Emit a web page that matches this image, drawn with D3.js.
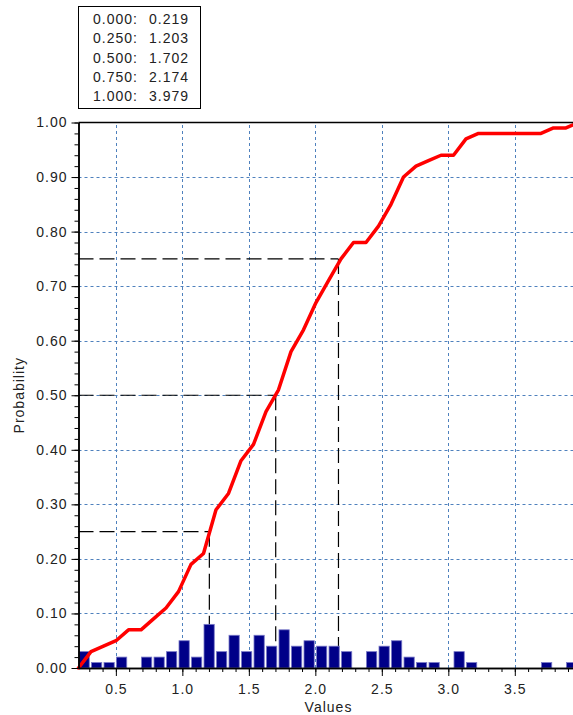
<!DOCTYPE html>
<html>
<head>
<meta charset="utf-8">
<script src="https://cdn.jsdelivr.net/npm/d3@7"></script>
<style>
  body { margin: 0; background: #fff; }
  svg text { font-family: "Liberation Sans", Arial, sans-serif; font-size: 14px; letter-spacing: 1px; fill: #222; }
</style>
</head>
<body>
<svg id="chart" width="573" height="715"></svg>
<script>
// quantile table
let quantProbs = [0.000, 0.250, 0.500, 0.750, 1.000],
    quantVals = [0.219, 1.203, 1.702, 2.174, 3.979];

// histogram bins (left edge) and relative frequency
let binStarts = [0.219, 0.313, 0.407, 0.501, 0.595, 0.689, 0.783, 0.877, 0.971, 1.065,
                 1.159, 1.253, 1.347, 1.441, 1.535, 1.629, 1.723, 1.817, 1.911, 2.005,
                 2.099, 2.193, 2.287, 2.381, 2.475, 2.569, 2.663, 2.757, 2.851, 2.945,
                 3.039, 3.133, 3.227, 3.321, 3.415, 3.509, 3.603, 3.697, 3.791, 3.885],
    binFreq = [0.03, 0.01, 0.01, 0.02, 0.00, 0.02, 0.02, 0.03, 0.05, 0.02,
               0.08, 0.03, 0.06, 0.03, 0.06, 0.04, 0.07, 0.04, 0.05, 0.04,
               0.04, 0.03, 0.00, 0.03, 0.04, 0.05, 0.02, 0.01, 0.01, 0.00,
               0.03, 0.01, 0.00, 0.00, 0.00, 0.00, 0.00, 0.01, 0.00, 0.01],
    binWidth = 0.094;

// cumulative curve
let cdfX = [0.219, 0.313, 0.407, 0.501, 0.595, 0.689, 0.783, 0.877, 0.971, 1.065,
            1.159, 1.253, 1.347, 1.441, 1.535, 1.629, 1.723, 1.817, 1.911, 2.005,
            2.099, 2.193, 2.287, 2.381, 2.475, 2.569, 2.663, 2.757, 2.851, 2.945,
            3.039, 3.133, 3.227, 3.321, 3.415, 3.509, 3.603, 3.697, 3.791, 3.885, 3.979],
    cdfY = [0.00, 0.03, 0.04, 0.05, 0.07, 0.07, 0.09, 0.11, 0.14, 0.19,
            0.21, 0.29, 0.32, 0.38, 0.41, 0.47, 0.51, 0.58, 0.62, 0.67,
            0.71, 0.75, 0.78, 0.78, 0.81, 0.85, 0.90, 0.92, 0.93, 0.94,
            0.94, 0.97, 0.98, 0.98, 0.98, 0.98, 0.98, 0.98, 0.99, 0.99, 1.00];

let xTicks = [0.5, 1.0, 1.5, 2.0, 2.5, 3.0, 3.5],
    yTicks = [0.0, 0.1, 0.2, 0.3, 0.4, 0.5, 0.6, 0.7, 0.8, 0.9, 1.0];

let svg = d3.select("#chart"),
    plotLeft = 78.5, plotRight = 578.5, plotTop = 122.5, plotBottom = 668,
    grid_color = "#4f81bd",
    bar_fill = "#000088",
    bar_stroke = "#7878c8",
    line_color = "#ff0000";

let x = d3.scaleLinear().domain([quantVals[0], quantVals[4]]).range([plotLeft, plotRight]),
    y = d3.scaleLinear().domain([0, 1]).range([plotBottom, plotTop]);

// grid
let grid = svg.append("g").attr("stroke", grid_color).attr("stroke-width", 1)
              .attr("stroke-dasharray", "3,3").attr("fill", "none");
grid.selectAll(".vg").data(xTicks).enter().append("line")
    .attr("x1", d => Math.round(x(d)) + 0.5).attr("x2", d => Math.round(x(d)) + 0.5)
    .attr("y1", plotBottom).attr("y2", plotTop);
grid.selectAll(".hg").data(yTicks.slice(1, -1)).enter().append("line")
    .attr("y1", d => Math.round(y(d)) + 0.5).attr("y2", d => Math.round(y(d)) + 0.5)
    .attr("x1", plotLeft).attr("x2", plotRight);

// quartile guides
let guides = svg.append("g").attr("stroke", "#000").attr("stroke-width", 1.2)
                .attr("stroke-dasharray", "15,6").attr("fill", "none");
let mids = [1, 2, 3];
guides.selectAll(".gh").data(mids).enter().append("line")
      .attr("x1", plotLeft).attr("x2", i => x(quantVals[i]))
      .attr("y1", i => y(quantProbs[i])).attr("y2", i => y(quantProbs[i]));
guides.selectAll(".gv").data(mids).enter().append("line")
      .attr("x1", i => x(quantVals[i])).attr("x2", i => x(quantVals[i]))
      .attr("y1", i => y(quantProbs[i])).attr("y2", plotBottom);

// histogram
let bars = svg.append("g");
binFreq.forEach(function (f, i) {
    if (f <= 0) return;
    let x0 = x(binStarts[i]), w = (x(binStarts[i] + binWidth) - x0) * 0.82;
    bars.append("rect")
        .attr("x", x0 + 0.5).attr("y", y(f))
        .attr("width", w).attr("height", plotBottom - y(f))
        .attr("fill", bar_fill).attr("stroke", bar_stroke).attr("stroke-width", 0.8);
});

// cumulative curve
let pts = cdfX.map((v, i) => [v, cdfY[i]]);
svg.append("path").datum(pts)
   .attr("fill", "none").attr("stroke", line_color).attr("stroke-width", 3.5)
   .attr("stroke-linejoin", "round").attr("stroke-linecap", "round")
   .attr("d", d3.line().x(d => x(d[0])).y(d => y(d[1])));

// frame
svg.append("line").attr("x1", plotLeft).attr("x2", plotRight).attr("y1", plotTop).attr("y2", plotTop)
   .attr("stroke", "#000").attr("stroke-width", 1.5);

// axes
svg.append("g").attr("transform", "translate(" + plotLeft + ",0)")
   .call(d3.axisLeft(y).tickValues(yTicks).tickSize(7).tickSizeOuter(0)
           .tickPadding(4).tickFormat(d3.format(".2f")));
svg.append("g").attr("transform", "translate(" + plotLeft + ",0)")
   .call(d3.axisLeft(y).tickValues(d3.range(0, 1.001, 0.02)).tickSize(4).tickSizeOuter(0).tickFormat(""));

svg.append("g").attr("transform", "translate(0," + plotBottom + ")")
   .call(d3.axisBottom(x).tickValues(xTicks).tickSize(8).tickSizeOuter(0)
           .tickPadding(8).tickFormat(d3.format(".1f")));
svg.append("g").attr("transform", "translate(0," + plotBottom + ")")
   .call(d3.axisBottom(x).tickValues(d3.range(0.3, 3.95, 0.1)).tickSize(4).tickSizeOuter(0).tickFormat(""));

svg.selectAll(".domain").attr("stroke", "#000").attr("stroke-width", 1.5);
svg.selectAll(".tick line").attr("stroke", "#000");
svg.selectAll(".tick text").attr("font-family", null).attr("font-size", null).attr("fill", "#222");

// axis titles
svg.append("text").attr("x", (plotLeft + plotRight) / 2).attr("y", 712)
   .attr("text-anchor", "middle").text("Values");
svg.append("text").attr("transform", "translate(24," + (plotTop + plotBottom) / 2 + ") rotate(-90)")
   .attr("text-anchor", "middle").text("Probability");

// quantile box
let box = svg.append("g");
box.append("rect").attr("x", 78.5).attr("y", 6.5).attr("width", 122).attr("height", 102)
   .attr("fill", "#fff").attr("stroke", "#000").attr("stroke-width", 1);
quantProbs.forEach(function (p, i) {
    let by = 24 + i * 19.25;
    box.append("text").attr("x", 138).attr("y", by).attr("text-anchor", "end")
       .text(d3.format(".3f")(p) + ":");
    box.append("text").attr("x", 189).attr("y", by).attr("text-anchor", "end")
       .text(d3.format(".3f")(quantVals[i]));
});
</script>
</body>
</html>
